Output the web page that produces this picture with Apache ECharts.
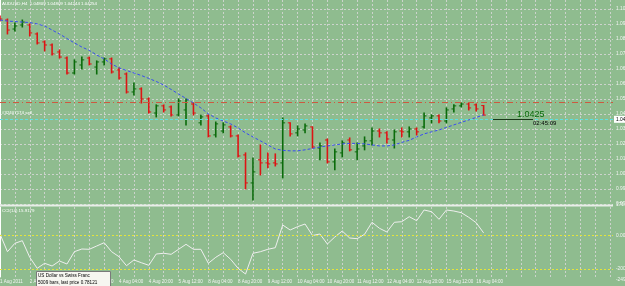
<!DOCTYPE html>
<html><head><meta charset="utf-8">
<script src="https://cdn.jsdelivr.net/npm/echarts@6/dist/echarts.min.js"></script>
<style>html,body{margin:0;padding:0;background:#8fbc8f}#c{width:625px;height:286px}</style>
</head><body><div id="c"></div>
<script>
// Bar time labels (every 4th H4 bar)
var xLabels = ["1 Aug 2011","2 Aug 04:00","2 Aug 20:00","3 Aug 12:00","4 Aug 04:00","4 Aug 20:00","5 Aug 12:00","8 Aug 04:00","8 Aug 20:00","9 Aug 12:00","10 Aug 04:00","10 Aug 20:00","11 Aug 12:00","12 Aug 04:00","12 Aug 20:00","15 Aug 12:00","16 Aug 04:00"];
// AUDUSD H4 OHLC
var open  = [1.1003,1.0985,1.0932,1.0956,1.0956,1.0903,1.0856,1.0838,1.0797,1.0761,1.0673,1.0720,1.0761,1.0708,1.0738,1.0756,1.0691,1.0667,1.0561,1.0579,1.0520,1.0437,1.0479,1.0473,1.0426,1.0455,1.0490,1.0379,1.0420,1.0308,1.0331,1.0355,1.0302,1.0190,1.0025,1.0161,1.0143,1.0143,1.0143,1.0379,1.0320,1.0337,1.0355,1.0231,1.0278,1.0149,1.0202,1.0278,1.0208,1.0243,1.0273,1.0331,1.0320,1.0278,1.0331,1.0326,1.0343,1.0355,1.0408,1.0420,1.0390,1.0461,1.0479,1.0490,1.0485,1.04809];
var high  = [1.1009,1.0991,1.0968,1.0985,1.0962,1.0909,1.0862,1.0844,1.0809,1.0767,1.0750,1.0767,1.0767,1.0744,1.0761,1.0761,1.0703,1.0673,1.0614,1.0585,1.0526,1.0485,1.0485,1.0479,1.0520,1.0520,1.0496,1.0426,1.0426,1.0384,1.0379,1.0361,1.0308,1.0202,1.0172,1.0249,1.0202,1.0196,1.0408,1.0379,1.0361,1.0373,1.0355,1.0261,1.0284,1.0225,1.0273,1.0290,1.0261,1.0296,1.0349,1.0343,1.0326,1.0337,1.0349,1.0355,1.0349,1.0437,1.0426,1.0426,1.0467,1.0485,1.0496,1.0496,1.0490,1.04809];
var low   = [1.0979,1.0903,1.0920,1.0944,1.0891,1.0844,1.0803,1.0779,1.0761,1.0667,1.0667,1.0697,1.0720,1.0667,1.0720,1.0673,1.0638,1.0555,1.0543,1.0496,1.0437,1.0414,1.0443,1.0420,1.0420,1.0367,1.0426,1.0367,1.0296,1.0296,1.0320,1.0296,1.0178,0.9990,0.9925,1.0072,1.0114,1.0125,1.0055,1.0302,1.0302,1.0320,1.0231,1.0161,1.0143,1.0102,1.0178,1.0214,1.0161,1.0220,1.0249,1.0296,1.0261,1.0231,1.0296,1.0296,1.0308,1.0349,1.0379,1.0379,1.0379,1.0443,1.0473,1.0455,1.0449,1.04244];
var close = [1.0991,1.0926,1.0950,1.0973,1.0909,1.0850,1.0838,1.0785,1.0767,1.0673,1.0738,1.0750,1.0726,1.0738,1.0756,1.0679,1.0644,1.0561,1.0579,1.0520,1.0443,1.0479,1.0455,1.0426,1.0508,1.0514,1.0437,1.0414,1.0302,1.0373,1.0367,1.0302,1.0184,1.0025,1.0090,1.0143,1.0137,1.0137,1.0379,1.0314,1.0343,1.0361,1.0237,1.0243,1.0149,1.0208,1.0261,1.0220,1.0225,1.0273,1.0331,1.0320,1.0284,1.0326,1.0326,1.0343,1.0326,1.0420,1.0420,1.0390,1.0455,1.0479,1.0490,1.0467,1.0461,1.04254];
// moving average
var ma = [1.0985,1.0979,1.0976,1.0973,1.0970,1.0962,1.0950,1.0926,1.0903,1.0876,1.0850,1.0826,1.0806,1.0779,1.0756,1.0726,1.0703,1.0688,1.0673,1.0658,1.0641,1.0623,1.0602,1.0576,1.0549,1.0523,1.0496,1.0467,1.0432,1.0408,1.0390,1.0373,1.0349,1.0320,1.0296,1.0273,1.0249,1.0225,1.0217,1.0214,1.0214,1.0220,1.0228,1.0237,1.0243,1.0249,1.0255,1.0258,1.0258,1.0255,1.0249,1.0243,1.0243,1.0249,1.0264,1.0276,1.0296,1.0314,1.0326,1.0337,1.0352,1.0367,1.0382,1.0396,1.0411,1.0426];
// CCI(14)
var cci = [9.2,-97.3,-46.8,-31.1,-131.0,-197.2,-167.1,-183.3,-153.3,-171.3,-97.3,-81.1,-82.9,-63.0,-43.2,-97.3,-127.4,-181.5,-147.2,-163.5,-179.1,-111.2,-106.9,-113.0,-82.9,-52.8,-82.9,-82.9,-167.1,-131.0,-103.3,-143.0,-197.2,-231.5,-106.9,-97.3,-82.9,-73.3,63.3,33.2,53.1,69.3,0.1,9.2,-51.0,-8.9,27.2,-14.9,-19.1,7.4,79.6,43.5,21.2,79.6,83.2,113.2,89.2,153.6,143.3,97.6,153.6,147.5,137.3,109.6,77.1,15.9];
var bidPrice = 1.04254;
var sellPrice = 1.0461;
var cciLevels = [0, -200];
var cciAxisLabels = [171.6, 0, -200, -249.5];

var UP = '#0b6b0b', DOWN = '#dd1414';
var ohlc = open.map(function(o, i){ return [i, o, high[i], low[i], close[i]]; });
var maData = ma.map(function(v, i){ return [i, v]; });
var cciData = cci.map(function(v, i){ return [i, v]; });

var chart = echarts.init(document.getElementById('c'), null, {renderer:'canvas'});
var FONT = 'Liberation Sans';
var gridLine = {show:true, lineStyle:{color:'rgba(215,215,215,0.85)', type:[2,2], width:1}};
var xMax = 82.39;
function xAxisCommon(idx, showLabels){
  return {
    type:'value', gridIndex:idx, min:0, max:xMax, interval:2,
    axisLine:{show:false}, axisTick:{show:false},
    splitLine:Object.assign({showMinLine:false, showMaxLine:false}, gridLine),
    axisLabel:{show:showLabels, color:'#f4f4f4', fontSize:4.5, fontFamily:FONT, align:'left', margin:2,
      showMinLabel:true, showMaxLabel:false,
      formatter:function(v){ if (Math.abs(v - Math.round(v))>1e-6) return ''; var r=Math.round(v); if (r%4!==0) return ''; var k=r/4; return k < xLabels.length ? xLabels[k] : ''; }}
  };
}
var option = {
  backgroundColor:'#8fbc8f',
  animation:false,
  grid:[
    {left:0, top:0, width:613, height:204, outerBoundsMode:'none', containLabel:false},
    {left:0, top:207, width:613, height:70, outerBoundsMode:'none', containLabel:false}
  ],
  xAxis:[ xAxisCommon(0,false), xAxisCommon(1,true) ],
  yAxis:[
    {type:'value', gridIndex:0, position:'right', min:0.99008, max:1.110304, interval:0.00884, scale:true,
     axisLine:{show:true, lineStyle:{color:'#ffffff', width:1}}, axisTick:{show:false},
     splitLine:Object.assign({showMinLine:true, showMaxLine:false}, gridLine),
     axisLabel:{color:'#f4f4f4', fontSize:4.8, fontFamily:FONT, margin:3, showMaxLabel:false,
       formatter:function(v){ return v.toFixed(4); }}},
    {type:'value', gridIndex:1, position:'right', min:-249.5, max:171.6,
     axisLine:{show:true, lineStyle:{color:'#ffffff', width:1}}, axisTick:{show:false},
     splitLine:{show:false},
     axisLabel:{color:'#f4f4f4', fontSize:4.8, fontFamily:FONT, margin:3, customValues:cciAxisLabels,
       verticalAlignMaxLabel:'top', verticalAlignMinLabel:'bottom',
       formatter:function(v){ return v===0 ? '0.00' : (v===-200 ? '-200' : v.toFixed(1)); }}}
  ],
  series:[
    {type:'custom', xAxisIndex:0, yAxisIndex:0, clip:true, data:ohlc,
     encode:{x:0, y:[1,2,3,4]},
     renderItem:function(params, api){
       var i = api.value(0), o = api.value(1), h = api.value(2), l = api.value(3), c = api.value(4);
       var po = api.coord([i,o]), ph = api.coord([i,h]), pl = api.coord([i,l]), pc = api.coord([i,c]);
       var col = c >= o ? UP : DOWN, t = 2.4;
       return {type:'group', children:[
         {type:'line', shape:{x1:ph[0], y1:ph[1]-0.5, x2:pl[0], y2:pl[1]+0.5}, style:{stroke:col, lineWidth:1.6}},
         {type:'line', shape:{x1:po[0]-t, y1:po[1], x2:po[0], y2:po[1]}, style:{stroke:col, lineWidth:1}},
         {type:'line', shape:{x1:pc[0], y1:pc[1], x2:pc[0]+t, y2:pc[1]}, style:{stroke:col, lineWidth:1}}
       ]};
     }},
    {type:'line', xAxisIndex:0, yAxisIndex:0, data:maData, symbol:'none', silent:true,
     lineStyle:{color:'#3a4cf0', width:1, type:[3,2]},
     markLine:{silent:true, symbol:'none', animation:false,
       data:[
         {yAxis:sellPrice, lineStyle:{color:'#cc5a40', type:[6,3,1,3], width:1}, label:{show:false}},
         {yAxis:bidPrice, lineStyle:{color:'#5fe0e0', type:[3,2], width:1},
          label:{show:true, position:'end', distance:1, formatter:'1.0425', color:'#000', backgroundColor:'#ffffff', fontSize:4.8, fontFamily:FONT, padding:[1,2]}}
       ]}},
    {type:'line', xAxisIndex:1, yAxisIndex:1, data:cciData, symbol:'none', silent:true,
     lineStyle:{color:'#eeeeee', width:1},
     markLine:{silent:true, symbol:'none', label:{show:false},
       lineStyle:{color:'#e4e43a', type:[2,2], width:1},
       data:cciLevels.map(function(v){ return {yAxis:v}; })}}
  ],
  graphic:[
    {type:'rect', shape:{x:0, y:204.5, width:613, height:2}, style:{fill:'#e8eee8'}, z:100},
    {type:'text', x:2, y:2, style:{text:'AUDUSD,H4  1.04809 1.04809 1.04244 1.04254', fill:'#ffffff', fontSize:4.4, fontFamily:FONT}, z:100},
    {type:'text', x:2, y:110.5, style:{text:'#32407174 sell', fill:'#ffffff', fontSize:4.4, fontFamily:FONT}, z:100},
    {type:'text', x:2, y:209, style:{text:'CCI(14) 15.9179', fill:'#ffffff', fontSize:4.4, fontFamily:FONT}, z:100},
    {type:'text', x:517, y:110.5, style:{text:'1.0425', fill:'#0b6b0b', fontSize:9, fontFamily:FONT}, z:100},
    {type:'line', shape:{x1:493, y1:119.5, x2:533, y2:119.5}, style:{stroke:'#1c3a1c', lineWidth:1}, z:100},
    {type:'text', x:533, y:120.5, style:{text:'02:45:09', fill:'#000000', fontSize:6, fontFamily:FONT}, z:100},
    {type:'rect', shape:{x:36.5, y:271.5, width:74, height:20}, style:{fill:'#f6f6f0', stroke:'#7a7a7a', lineWidth:1}, z:110},
    {type:'text', x:38, y:273, style:{text:'US Dollar vs Swiss Franc', fill:'#000000', fontSize:4.6, fontFamily:FONT}, z:111},
    {type:'text', x:38, y:280.5, style:{text:'5009 bars, last price 0.78121', fill:'#000000', fontSize:4.6, fontFamily:FONT}, z:111}
  ]
};
chart.setOption(option);
</script></body></html>
